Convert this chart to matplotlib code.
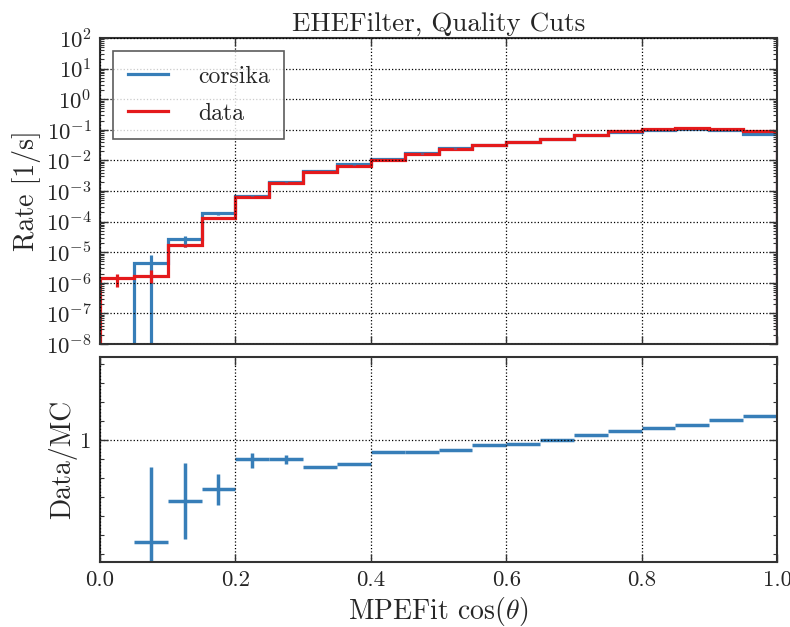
import numpy as np
import matplotlib
matplotlib.use("Agg")
import matplotlib.pyplot as plt
from matplotlib.ticker import LogLocator, FixedLocator, FixedFormatter, NullFormatter, MultipleLocator

plt.rcParams['font.family'] = ['cmr10', 'DejaVu Serif']
plt.rcParams['mathtext.fontset'] = 'cm'
plt.rcParams['axes.formatter.use_mathtext'] = True

# ---- data ----
edges = np.round(np.arange(0, 1.0001, 0.05), 3)
corsika = [0.0, 4.4e-6, 2.7e-5, 1.86e-4, 7.1e-4, 2.0e-3, 4.5e-3, 7.4e-3, 0.011, 0.017,
           0.0245, 0.032, 0.039, 0.049, 0.066, 0.087, 0.100, 0.107, 0.100, 0.071]
corsika_err_lo = [0.0, 4.4e-6, 1.2e-5, 2.0e-5, 4e-5, 8e-5, 1.5e-4, 2e-4, 2.5e-4, 3e-4,
                  3e-4, 3e-4, 3e-4, 3e-4, 3e-4, 3e-4, 3e-4, 3e-4, 3e-4, 3e-4]
corsika_err_hi = [0.0, 3.7e-6, 7e-6, 2.0e-5, 4e-5, 8e-5, 1.5e-4, 2e-4, 2.5e-4, 3e-4,
                  3e-4, 3e-4, 3e-4, 3e-4, 3e-4, 3e-4, 3e-4, 3e-4, 3e-4, 3e-4]
data = [1.4e-6, 1.7e-6, 1.7e-5, 1.35e-4, 6.5e-4, 1.8e-3, 4.1e-3, 6.6e-3, 0.0102, 0.0158,
        0.0236, 0.0316, 0.039, 0.050, 0.068, 0.091, 0.107, 0.117, 0.110, 0.093]
data_err_lo = [6.6e-7, 7.4e-7, 2e-6, 5e-6, 1e-5, 2e-5, 3e-5, 4e-5, 5e-5, 6e-5,
               7e-5, 8e-5, 9e-5, 1e-4, 1e-4, 1e-4, 1e-4, 1e-4, 1e-4, 1e-4]
data_err_hi = [5e-7, 9e-7, 2e-6, 5e-6, 1e-5, 2e-5, 3e-5, 4e-5, 5e-5, 6e-5,
               7e-5, 8e-5, 9e-5, 1e-4, 1e-4, 1e-4, 1e-4, 1e-4, 1e-4, 1e-4]
ratio_centers = [0.075, 0.125, 0.175, 0.225, 0.275, 0.325, 0.375, 0.425, 0.475, 0.525,
                 0.575, 0.625, 0.675, 0.725, 0.775, 0.825, 0.875, 0.925, 0.975]
ratio = [0.29, 0.48, 0.55, 0.79, 0.79, 0.72, 0.75, 0.865, 0.865, 0.885,
         0.94, 0.956, 1.0, 1.06, 1.11, 1.15, 1.20, 1.27, 1.33]
ratio_err_lo = [0.28, 0.18, 0.095, 0.08, 0.045, 0.012, 0.01, 0.008, 0.006, 0.006,
                0.005, 0.005, 0.005, 0.005, 0.005, 0.005, 0.005, 0.005, 0.005]
ratio_err_hi = [0.43, 0.28, 0.11, 0.06, 0.04, 0.012, 0.01, 0.008, 0.006, 0.006,
                0.005, 0.005, 0.005, 0.005, 0.005, 0.005, 0.005, 0.005, 0.005]

blue = '#377eb8'
red = '#e41a1c'
txt = '0.15'
centers = 0.5 * (edges[:-1] + edges[1:])

fig = plt.figure(figsize=(7.9, 6.27), dpi=100)
ax1 = fig.add_axes([0.1266, 0.4514, 0.8570, 0.4880])
ax2 = fig.add_axes([0.1266, 0.1037, 0.8570, 0.3270])

def style(ax):
    for s in ax.spines.values():
        s.set_linewidth(1.5)
        s.set_color('0.2')
    ax.tick_params(which='both', direction='in', top=True, right=True, labelsize=16.5,
                   color='0.2', labelcolor=txt, pad=6)
    ax.tick_params(which='major', length=6, width=1)
    ax.tick_params(which='minor', length=3, width=0.8)
    ax.grid(True, which='major', color='k', linestyle=':', linewidth=0.9)
    ax.set_axisbelow(False)

# ---- top panel ----
ax1.set_yscale('log')
ax1.stairs(corsika, edges, baseline=0, color=blue, linewidth=2.3, label='corsika')
ax1.errorbar(centers, np.maximum(corsika, 1e-12), yerr=[corsika_err_lo, corsika_err_hi],
             fmt='none', ecolor=blue, elinewidth=2.3, capsize=0)
ax1.stairs(data, edges, baseline=0, color=red, linewidth=2.3, label='data')
ax1.errorbar(centers, data, yerr=[data_err_lo, data_err_hi], xerr=0.0,
             fmt='none', ecolor=red, elinewidth=2.3, capsize=0)
ax1.set_xlim(0, 1)
ax1.set_ylim(1e-8, 1e2)
ax1.yaxis.set_major_locator(LogLocator(base=10, numticks=100))
ax1.yaxis.set_minor_locator(LogLocator(base=10, subs=np.arange(2, 10), numticks=100))
ax1.yaxis.set_minor_formatter(NullFormatter())
ax1.xaxis.set_major_locator(MultipleLocator(0.2))
ax1.tick_params(labelbottom=False)
style(ax1)
ax1.set_ylabel('Rate [1/s]', fontsize=20, color=txt, labelpad=3)
ax1.set_title('EHEFilter, Quality Cuts', fontsize=19.5, pad=5, color=txt)
leg = ax1.legend(loc='upper left', fontsize=17, frameon=True, fancybox=False,
                 edgecolor='0.2', handlelength=1.7, handletextpad=1.27,
                 labelspacing=0.62, borderpad=0.62, borderaxespad=0.55)
leg.get_frame().set_linewidth(1.2)
for t in leg.get_texts():
    t.set_color(txt)

# ---- bottom panel ----
ax2.set_yscale('log')
ax2.errorbar(ratio_centers, ratio, xerr=0.025, yerr=[ratio_err_lo, ratio_err_hi],
             fmt='none', ecolor=blue, elinewidth=2.5, capsize=0)
ax2.set_xlim(0, 1)
ax2.set_ylim(10 ** -0.642, 10 ** 0.437)
ax2.yaxis.set_major_locator(FixedLocator([1.0]))
ax2.yaxis.set_major_formatter(FixedFormatter(['1']))
ax2.yaxis.set_minor_locator(FixedLocator([10 ** (0.1 * k) for k in range(-6, 5) if k != 0]))
ax2.yaxis.set_minor_formatter(NullFormatter())
ax2.xaxis.set_major_locator(MultipleLocator(0.2))
ax2.xaxis.set_major_formatter(matplotlib.ticker.FormatStrFormatter('%.1f'))
style(ax2)
ax2.set_ylabel('Data/MC', fontsize=20, color=txt, labelpad=2)
ax2.set_xlabel(r'MPEFit $\cos(\theta)$', fontsize=20, color=txt, labelpad=4)

fig.savefig('out.png', dpi=100)
